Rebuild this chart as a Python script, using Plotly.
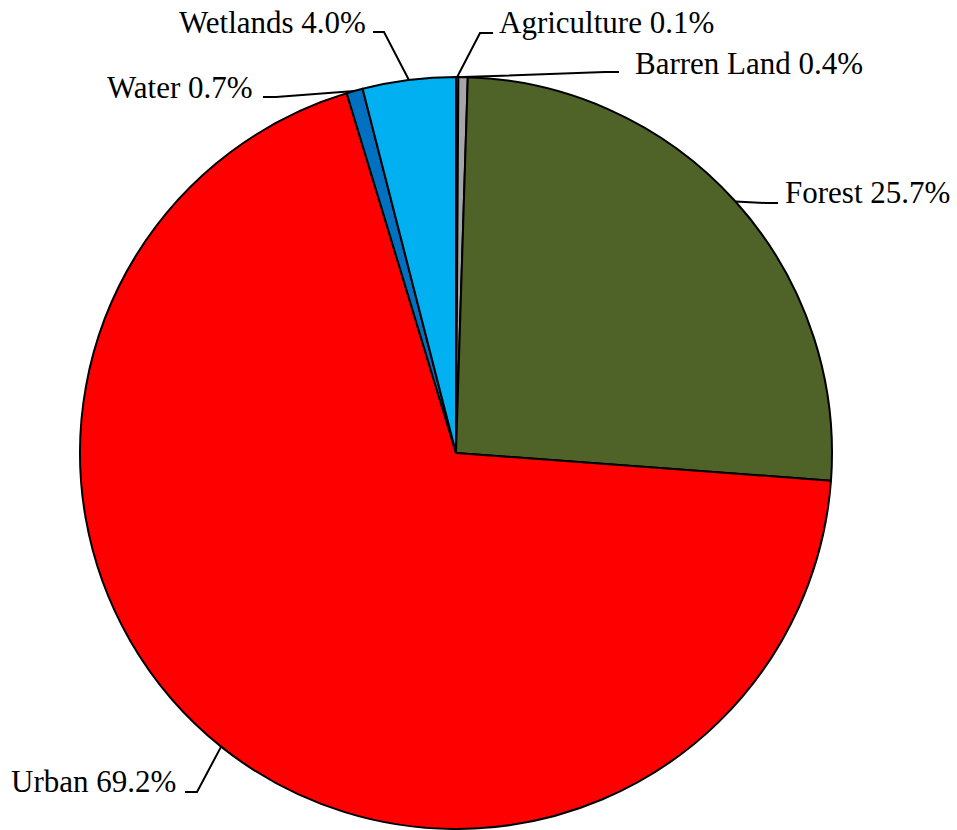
import math
import plotly.graph_objects as go

# Data
categories = ["Agriculture", "Barren Land", "Forest", "Urban", "Water", "Wetlands"]
values = [0.1, 0.4, 25.7, 69.2, 0.7, 4.0]
label_texts = ["Agriculture 0.1%", "Barren Land 0.4%", "Forest 25.7%",
               "Urban 69.2%", "Water 0.7%", "Wetlands 4.0%"]
colors = ["#FFC000", "#A6A6A6", "#4F6228", "#FF0000", "#0070C0", "#00B0F0"]

W, H = 957, 830
CX, CY, R = 456, 453, 376  # pie centre / radius in pixels (layout)


def px(x):
    return x / W


def py(y):
    return 1 - y / H


fig = go.Figure(go.Pie(
    labels=categories,
    values=values,
    sort=False,
    direction="clockwise",
    rotation=0,
    marker=dict(colors=colors, line=dict(color="black", width=2)),
    textinfo="none",
    hoverinfo="label+percent",
    domain=dict(x=[px(CX - R), px(CX + R)], y=[py(CY + R), py(CY - R)]),
    showlegend=False,
))

# label layout: (text x, text y, anchor, elbow points from label side)
label_layout = {
    "Agriculture": dict(x=497, y=23, anchor="left", pts=[(493, 33), (480, 33)]),
    "Barren Land": dict(x=633, y=63, anchor="left", pts=[(619, 72), (605, 72)]),
    "Forest": dict(x=783, y=192, anchor="left", pts=[(778, 203), (766, 203)]),
    "Urban": dict(x=178, y=781, anchor="right", pts=[(185, 792), (197, 792)]),
    "Water": dict(x=255, y=87, anchor="right", pts=[(263, 97), (276, 97)]),
    "Wetlands": dict(x=368, y=23, anchor="right", pts=[(373, 32), (384, 32)]),
}

total = sum(values)
cum = 0.0
annotations = []
shapes = []
for cat, val, txt in zip(categories, values, label_texts):
    mid = (cum + val / 2) / total * 2 * math.pi
    cum += val
    ex = CX + R * math.sin(mid)
    ey = CY - R * math.cos(mid)
    lay = label_layout[cat]
    annotations.append(dict(
        x=px(lay["x"]), y=py(lay["y"]), xref="paper", yref="paper",
        text=txt, showarrow=False, xanchor=lay["anchor"], yanchor="middle",
        font=dict(family="Liberation Serif", size=31, color="black"),
    ))
    pts = lay["pts"] + [(ex, ey)]
    path = "M " + " L ".join(f"{px(x)},{py(y)}" for x, y in pts)
    shapes.append(dict(type="path", path=path, xref="paper", yref="paper",
                       line=dict(color="black", width=2)))

fig.update_layout(
    width=W, height=H,
    margin=dict(l=0, r=0, t=0, b=0),
    paper_bgcolor="white",
    plot_bgcolor="white",
    annotations=annotations,
    shapes=shapes,
)

fig.write_html("out.html", post_script="document.body.style.margin='0';",
               config={"displayModeBar": False})
